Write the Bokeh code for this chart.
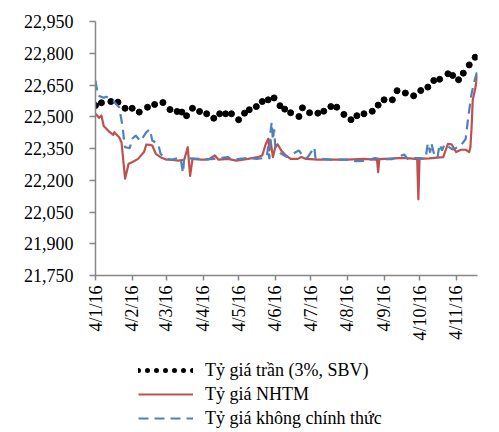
import pandas as pd
from math import pi
from bokeh.plotting import figure
from bokeh.layouts import column
from bokeh.models import (Range1d, FixedTicker, NumeralTickFormatter, Legend, LegendItem)
from bokeh.embed import file_html
from bokeh.resources import INLINE

# ---------------- data ----------------
tick_labels = ["4/1/16", "4/2/16", "4/3/16", "4/4/16", "4/5/16", "4/6/16",
               "4/7/16", "4/8/16", "4/9/16", "4/10/16", "4/11/16"]
y_ticks = [21750, 21900, 22050, 22200, 22350, 22500, 22650, 22800, 22950]
series_names = ["Tỷ giá trần (3%, SBV)", "Tỷ giá NHTM", "Tỷ giá không chính thức"]
last_day = 323  # days after 4/1/16

ceiling_days = [0, 5, 13, 19, 25, 31, 37, 44, 50, 57, 63, 69, 73, 77, 82, 88, 94, 100, 105, 110,
                115, 121, 126, 130, 136, 141, 146, 151, 156, 160, 165, 172, 175, 181, 188, 193,
                199, 204, 210, 216, 221, 227, 234, 239, 244, 251, 255, 262, 269, 275, 281, 286,
                291, 298, 302, 307, 311, 316, 321]
ceiling_vals = [22553, 22566, 22572, 22569, 22540, 22540, 22522, 22545, 22558, 22567,
                22534, 22525, 22522, 22505, 22540, 22525, 22514, 22493, 22514, 22514,
                22514, 22486, 22517, 22533, 22548, 22572, 22580, 22589, 22552, 22536,
                22519, 22501, 22542, 22519, 22517, 22526, 22548, 22545, 22511, 22486,
                22505, 22514, 22526, 22555, 22580, 22580, 22623, 22612, 22599, 22624,
                22640, 22671, 22677, 22703, 22695, 22675, 22706, 22745, 22781]

nhtm_days = [0, 3, 5, 7, 9, 12, 15, 16, 17, 20, 22, 25, 28, 31, 36, 41, 43, 46, 48, 51,
             55, 60, 64, 70, 75, 78, 80, 82, 89, 95, 101, 104, 112, 119, 129, 137, 141, 144,
             146, 147, 148, 150, 152, 154, 157, 161, 165, 171, 174, 178, 188, 199, 213, 227,
             236, 238, 239, 240, 261, 270, 272, 273, 274, 282, 294, 298, 301, 305, 309, 313,
             316, 317, 318, 319, 321, 323]
nhtm_vals = [22514, 22495, 22506, 22455, 22445, 22427, 22415, 22427, 22420, 22403,
             22380, 22207, 22278, 22285, 22301, 22333, 22369, 22367, 22364, 22325,
             22309, 22297, 22297, 22293, 22297, 22356, 22220, 22301, 22297, 22297,
             22317, 22297, 22301, 22293, 22301, 22309, 22317, 22372, 22396, 22341,
             22388, 22309, 22356, 22370, 22341, 22317, 22301, 22301, 22310, 22301,
             22297, 22297, 22297, 22301, 22297, 22297, 22238, 22300, 22306, 22301,
             22301, 22110, 22301, 22303, 22309, 22372, 22370, 22333, 22344, 22344,
             22333, 22356, 22450, 22580, 22630, 22700]

free_days = [0, 2, 7, 9, 15, 16, 20, 23, 24, 25, 29, 31, 34, 38, 43, 46, 48, 53, 55, 58,
             61, 64, 70, 72, 74, 75, 88, 98, 112, 115, 122, 129, 136, 143, 145, 146, 147, 148,
             149, 150, 151, 152, 154, 157, 162, 172, 175, 179, 185, 186, 199, 213, 220, 230,
             236, 242, 251, 261, 264, 269, 275, 279, 281, 283, 284, 286, 289, 291, 293, 295,
             298, 302, 306, 309, 311, 313, 315, 318, 320, 323]
free_vals = [22671, 22600, 22590, 22595, 22577, 22569, 22545, 22451, 22396, 22356,
             22352, 22396, 22411, 22385, 22427, 22440, 22388, 22372, 22325, 22309,
             22301, 22297, 22305, 22300, 22235, 22305, 22301, 22300, 22310, 22297,
             22301, 22305, 22301, 22305, 22320, 22360, 22300, 22430, 22474, 22390,
             22440, 22360, 22341, 22325, 22310, 22341, 22317, 22305, 22356, 22305,
             22297, 22297, 22290, 22292, 22305, 22300, 22300, 22322, 22300, 22305,
             22305, 22300, 22375, 22330, 22375, 22330, 22303, 22370, 22340, 22370,
             22360, 22345, 22355, 22365, 22380, 22395, 22490, 22610, 22660, 22720]

# tick positions derived from the (day/month/year) tick labels
base = pd.to_datetime(tick_labels[0], format="%d/%m/%y")
tick_days = [int((pd.to_datetime(t, format="%d/%m/%y") - base).days) for t in tick_labels]

# ---------------- styles ----------------
FONT = "Liberation Serif"
AXIS_COLOR = "#868686"
RED = "#C0504D"
BLUE = "#4F81BD"
DOT_STYLE = dict(line_color="black", line_width=5, line_cap="round", line_dash="0 9")
RED_STYLE = dict(line_color=RED, line_width=2.2, line_join="round")
BLUE_STYLE = dict(line_color=BLUE, line_width=2.2, line_dash="10 6")

# ---------------- main chart ----------------
p = figure(width=499, height=345, output_backend="svg", toolbar_location=None,
           x_range=Range1d(0, last_day), y_range=Range1d(y_ticks[0], y_ticks[-1]),
           min_border_left=95, min_border_right=22, min_border_top=21,
           min_border_bottom=70)
p.outline_line_color = None
p.xgrid.grid_line_color = None
p.ygrid.grid_line_color = None
p.background_fill_color = "white"
p.border_fill_color = "white"

for ax in (p.xaxis[0], p.yaxis[0]):
    ax.axis_line_color = AXIS_COLOR
    ax.axis_line_width = 1.5
    ax.major_tick_line_color = AXIS_COLOR
    ax.major_tick_line_width = 1.5
    ax.minor_tick_line_color = None
    ax.major_tick_in = 0
    ax.major_label_text_font = FONT
    ax.major_label_text_font_size = "18px"
    ax.major_label_text_color = "black"

p.yaxis.ticker = FixedTicker(ticks=y_ticks)
p.yaxis.formatter = NumeralTickFormatter(format="0,0")
p.yaxis.major_tick_out = 6
p.yaxis.major_label_standoff = 16

p.xaxis.ticker = FixedTicker(ticks=tick_days)
p.xaxis.major_label_overrides = {d: lab for d, lab in zip(tick_days, tick_labels)}
p.xaxis.major_tick_out = 5
p.xaxis.major_label_standoff = 5
p.xaxis.major_label_orientation = pi / 2

p.scatter(ceiling_days, ceiling_vals, size=6, color="black")
p.line(nhtm_days, nhtm_vals, **RED_STYLE)
p.line(free_days, free_vals, **BLUE_STYLE)

# ---------------- legend strip ----------------
lg = figure(width=499, height=87, output_backend="svg", toolbar_location=None,
            x_range=Range1d(0, 1), y_range=Range1d(0, 1),
            x_axis_type=None, y_axis_type=None,
            min_border_left=0, min_border_right=0, min_border_top=0, min_border_bottom=0)
lg.outline_line_color = None
lg.xgrid.grid_line_color = None
lg.ygrid.grid_line_color = None
lg.background_fill_color = "white"
lg.border_fill_color = "white"

# sample glyphs kept outside the visible range; only their legend swatches show
off = [-5, -4]
g_dot = lg.line(x=off, y=off, **DOT_STYLE)
g_red = lg.line(x=off, y=off, **RED_STYLE)
g_blue = lg.line(x=off, y=off, **BLUE_STYLE)

legend = Legend(items=[LegendItem(label=series_names[0], renderers=[g_dot]),
                       LegendItem(label=series_names[1], renderers=[g_red]),
                       LegendItem(label=series_names[2], renderers=[g_blue])],
                location=(43, 2), orientation="vertical",
                glyph_width=55, glyph_height=24, label_height=24, spacing=0,
                label_standoff=12, padding=0, margin=0,
                label_text_font=FONT, label_text_font_size="18px",
                label_text_color="black",
                border_line_color=None, background_fill_alpha=0)
lg.add_layout(legend, "center")

layout = column(p, lg, spacing=0)
open("out.html", "w").write(file_html(layout, INLINE))
